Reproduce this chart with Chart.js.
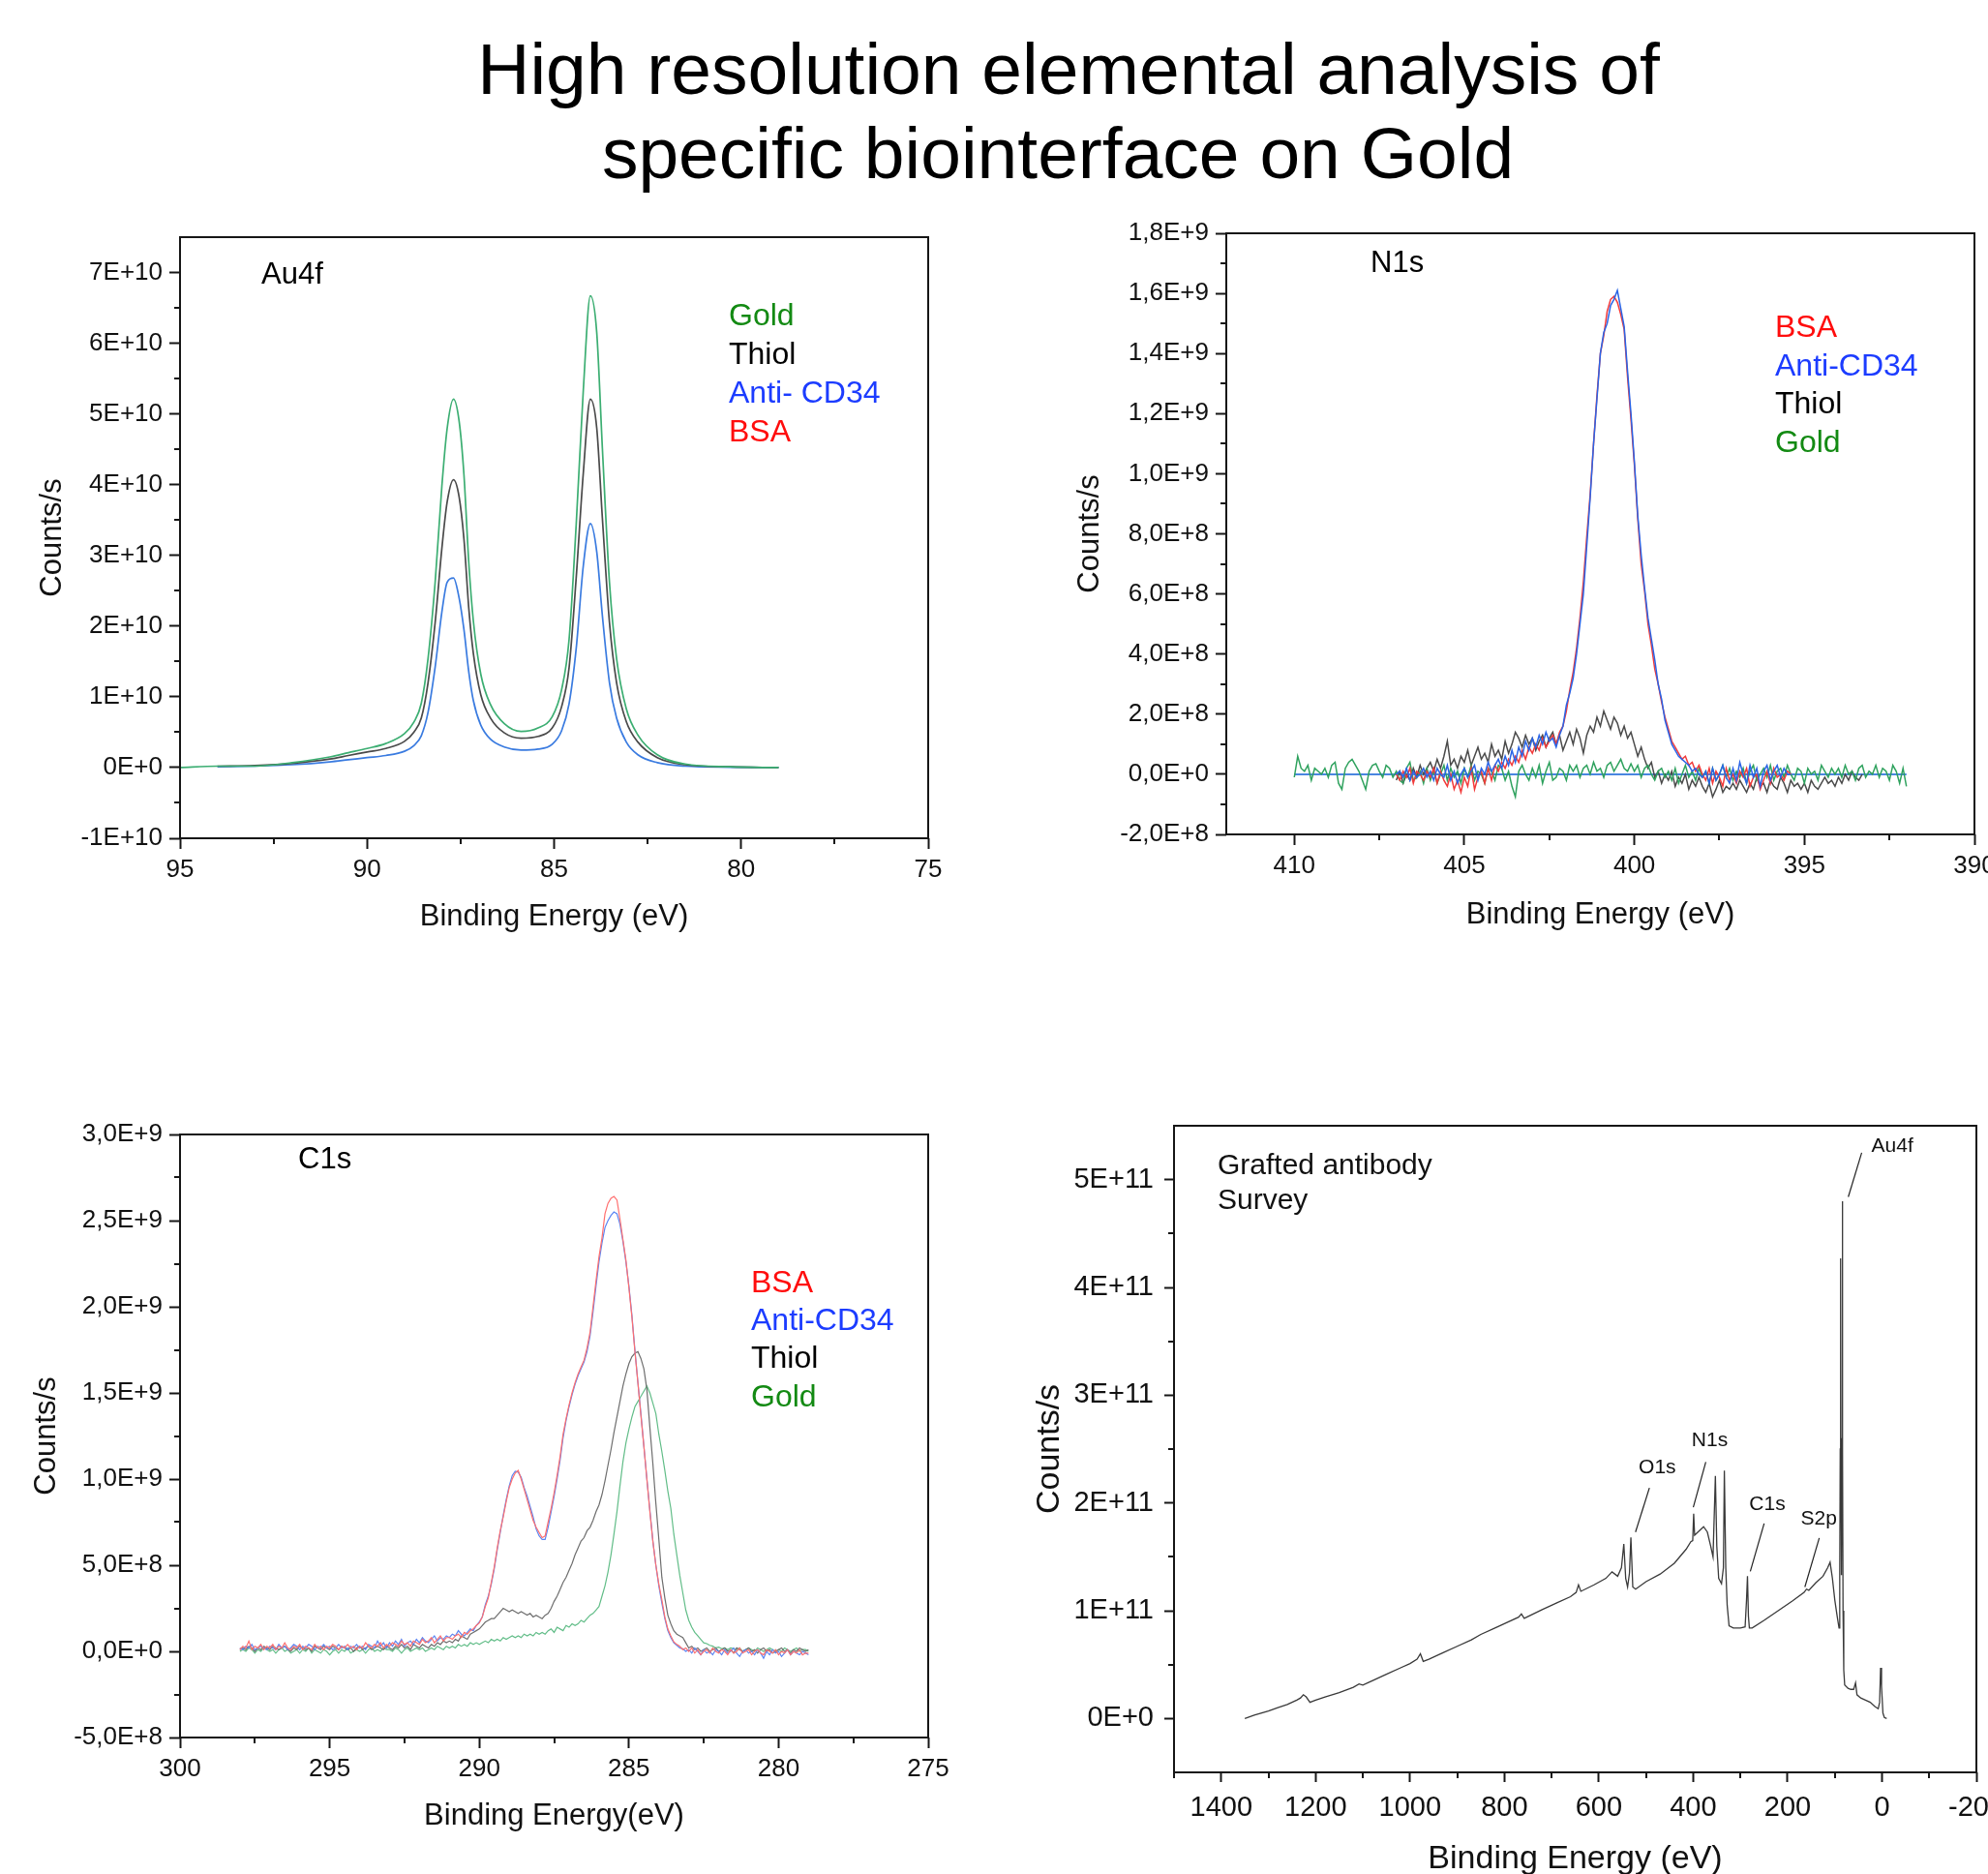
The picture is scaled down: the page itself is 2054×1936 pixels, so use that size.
<!DOCTYPE html>
<html><head><meta charset="utf-8">
<script src="https://cdn.jsdelivr.net/npm/chart.js@4/dist/chart.umd.min.js"></script>
<style>
html,body{margin:0;padding:0;background:#fff;width:2054px;height:1936px;overflow:hidden;position:relative;font-family:"Liberation Sans",Arial,sans-serif;}
.title{position:absolute;width:1600px;text-align:center;font-size:75px;line-height:75px;color:#000;white-space:nowrap;}
canvas{position:absolute;}
</style></head><body>
<div class="title" style="top:34px;left:304px">High resolution elemental analysis of</div>
<div class="title" style="top:121px;left:293px">specific biointerface on Gold</div>
<canvas id="cAu"></canvas>
<canvas id="cN"></canvas>
<canvas id="cC"></canvas>
<canvas id="cS"></canvas>
<script>
const FONT = '"Liberation Sans", Arial, sans-serif';
Chart.defaults.font.family = FONT;

// ================= Au4f (values in 1E+10 counts/s) =================
const au4fUnit = 1e10;
const au4fEnergy = [95.0, 94.0, 93.0, 92.0, 91.0, 90.5, 90.0, 89.5, 89.0, 88.75, 88.55, 88.37, 88.18, 88.0, 87.86, 87.69, 87.54, 87.41, 87.28, 87.16, 86.96, 86.7, 86.33, 85.88, 85.43, 85.05, 84.8, 84.6, 84.41, 84.22, 84.03, 83.86, 83.71, 83.52, 83.33, 83.07, 82.76, 82.24, 81.5, 80.3, 79.0];
const au4fGold  = [0, 0.02, 0.02, 0.07, 0.15, 0.21, 0.27, 0.34, 0.48, 0.64, 0.91, 1.54, 2.62, 3.98, 4.79, 5.21, 4.90, 4.14, 2.89, 2.08, 1.32, 0.89, 0.62, 0.51, 0.56, 0.72, 1.10, 1.81, 3.43, 5.33, 6.67, 6.15, 4.52, 2.62, 1.54, 0.83, 0.46, 0.18, 0.05, 0.01, 0];
const au4fThiol = [null, 0.02, 0.03, 0.06, 0.12, 0.17, 0.22, 0.27, 0.37, 0.50, 0.70, 1.20, 2.05, 3.10, 3.75, 4.07, 3.83, 3.23, 2.25, 1.62, 1.03, 0.70, 0.49, 0.415, 0.44, 0.56, 0.86, 1.41, 2.68, 4.16, 5.21, 4.80, 3.53, 2.05, 1.20, 0.65, 0.36, 0.14, 0.04, 0.01, 0];
const au4fAnti  = [null, 0.01, 0.02, 0.04, 0.08, 0.11, 0.14, 0.17, 0.23, 0.31, 0.45, 0.78, 1.42, 2.20, 2.62, 2.68, 2.40, 1.95, 1.35, 0.95, 0.60, 0.40, 0.29, 0.247, 0.26, 0.33, 0.52, 0.90, 1.68, 2.85, 3.45, 3.05, 2.15, 1.20, 0.70, 0.36, 0.18, 0.07, 0.02, 0.005, 0];
const au4fYTicks = [-1e10, 0, 1e10, 2e10, 3e10, 4e10, 5e10, 6e10, 7e10];
const au4fYLabels = ['-1E+10','0E+0','1E+10','2E+10','3E+10','4E+10','5E+10','6E+10','7E+10'];
const au4fYMinor = [-0.5e10, 0.5e10, 1.5e10, 2.5e10, 3.5e10, 4.5e10, 5.5e10, 6.5e10];
const au4fXTicks = [95, 90, 85, 80, 75];
const au4fXLabels = ['95','90','85','80','75'];
const au4fXMinor = [92.5, 87.5, 82.5, 77.5];

// ================= N1s (values in 1E+8 counts/s, scan step 0.1 eV) =================
const n1sUnit = 1e8;
const scanStepEV = 0.1;
const n1sGoldStart = 410.0;
const n1sGold = [
 -0.1, 0.6, 0.2, 0.1, 0.3, -0.2, 0.2, 0.1, 0.0, 0.2,
 -0.1, 0.3, 0.4, -0.3, -0.5, 0.2, 0.4, 0.5, 0.3, 0.1,
 -0.2, -0.5, 0.1, 0.3, 0.35, 0.1, -0.1, 0.3, 0.2, -0.1,
 0.1, -0.2, -0.3, 0.2, 0.4, -0.2, -0.1, 0.1, -0.3, 0.2,
 -0.2, 0.1, -0.3, 0.0, 0.3, -0.2, 0.2, -0.1, 0.1, -0.3,
 0.2, -0.1, 0.3, -0.2, 0.1, 0.0, -0.3, 0.2, 0.1, -0.2,
 0.3, 0.2, -0.2, 0.1, -0.4, -0.75, 0.1, 0.3, 0.0, -0.2,
 0.2, -0.1, 0.3, -0.3, 0.1, 0.4, -0.2, -0.1, 0.2, 0.1,
 -0.2, 0.3, 0.1, 0.3, -0.1, 0.2, 0.3, 0.0, 0.4, 0.1,
 0.2, -0.1, 0.3, 0.4, 0.1, 0.3, 0.5, 0.2, 0.1, 0.35,
 0.1, 0.3, -0.1, 0.2, 0.3, 0.0, -0.2, 0.1, 0.2, -0.1,
 0.1, -0.2, 0.2, -0.3, 0.0, 0.3, -0.1, 0.1, -0.2, 0.2,
 -0.1, 0.1, -0.3, 0.2, -0.2, 0.0, 0.3, -0.1, 0.2, -0.2,
 0.1, -0.1, 0.2, -0.3, 0.1, 0.3, -0.2, 0.0, 0.2, -0.1,
 0.3, -0.2, 0.1, 0.2, -0.1, 0.3, 0.0, -0.2, 0.2, 0.1,
 -0.3, 0.2, 0.0, 0.1, -0.2, 0.3, 0.1, -0.1, 0.2, 0.0,
 0.2, -0.1, 0.3, 0.0, 0.1, -0.2, 0.2, 0.3, -0.1, 0.1,
 0.0, 0.3, -0.1, 0.2, 0.1, -0.2, 0.3, 0.1, -0.3, 0.2,
 -0.4];
const n1sProteinStart = 407.0;
const n1sBSA = [
 0.0, -0.2, 0.1, -0.1, 0.2, -0.3, 0.1, 0.0, -0.2, 0.1,
 -0.1, 0.2, -0.3, 0.1, -0.2, -0.4, 0.0, -0.5, -0.2, -0.6,
 -0.1, -0.4, 0.2, -0.5, -0.1, 0.1, -0.3, 0.2, -0.2, 0.3,
 0.1, 0.4, 0.2, 0.5, 0.3, 0.6, 0.4, 0.8, 0.5, 0.9,
 0.7, 1.0, 0.8, 1.2, 0.9, 1.1, 1.3, 1.0, 1.4, 1.6,
 2.1, 2.8, 3.4, 4.2, 5.2, 6.4, 7.9, 9.3, 11.0, 12.6,
 14.0, 14.6, 15.4, 15.8, 15.9, 15.7, 15.3, 14.8, 13.2, 11.8,
 10.3, 8.5, 7.0, 6.1, 5.0, 4.3, 3.5, 3.0, 2.4, 1.9,
 1.5, 1.1, 0.9, 0.7, 0.5, 0.6, 0.3, 0.4, 0.1, 0.3,
 0.0, -0.2, 0.2, -0.3, 0.1, -0.1, -0.4, 0.2, -0.2, 0.0,
 -0.3, 0.1, -0.1, 0.2, -0.4, -0.1, 0.0, -0.5, -0.2, 0.1,
 -0.3, 0.2, -0.1, 0.0, -0.2, 0.1, 0.0];
const n1sAnti = [
 0.0, 0.1, -0.1, 0.2, -0.2, 0.1, -0.1, 0.0, 0.2, -0.1,
 0.1, -0.2, 0.2, 0.0, -0.1, 0.3, -0.2, 0.1, -0.3, 0.0,
 0.2, -0.1, 0.1, 0.3, -0.2, 0.2, 0.0, 0.4, 0.1, 0.3,
 0.5, 0.2, 0.6, 0.3, 0.8, 0.4, 0.9, 0.6, 1.1, 0.8,
 1.2, 0.9, 1.3, 1.0, 1.4, 1.1, 1.2, 0.9, 1.3, 1.6,
 2.3, 2.7, 3.2, 4.0, 5.0, 6.0, 7.6, 9.2, 11.0, 12.5,
 14.0, 14.7, 15.0, 15.6, 15.8, 16.1, 15.5, 14.9, 13.4, 12.0,
 10.4, 8.6, 7.3, 6.2, 5.2, 4.5, 3.8, 3.0, 2.5, 1.8,
 1.4, 1.0, 0.8, 0.6, 0.5, 0.4, 0.3, 0.1, 0.2, 0.0,
 -0.1, 0.1, -0.3, 0.2, -0.2, 0.0, 0.3, -0.1, -0.3, 0.2,
 -0.2, 0.4, 0.0, -0.3, 0.3, -0.1, 0.2, -0.4, 0.1, 0.3,
 -0.2, 0.1, 0.3, -0.1, 0.2, 0.0, 0.0];
const n1sThiol = [
 -0.2, 0.1, -0.3, 0.0, -0.2, 0.2, -0.1, 0.3, 0.0, 0.2,
 0.4, 0.1, 0.5, 0.2, 0.6, 1.1, 0.3, 0.5, 0.2, 0.6,
 0.4, 0.8, 0.3, 0.6, 0.9, 0.5, 0.7, 0.4, 1.0, 0.6,
 0.8, 0.5, 1.1, 0.7, 1.0, 1.4, 1.2, 0.9, 1.3, 1.0,
 1.2, 0.8, 1.1, 1.3, 0.9, 1.2, 1.4, 1.0, 1.3, 0.8,
 1.1, 1.4, 1.0, 1.5, 1.2, 0.7, 1.3, 1.6, 1.4, 1.9,
 1.6, 2.1, 1.8, 1.5, 1.9, 1.7, 1.3, 1.6, 1.2, 1.4,
 1.0, 0.6, 0.9, 0.5, 0.2, 0.4, -0.1, 0.1, -0.3, 0.0,
 -0.2, 0.1, -0.4, -0.1, -0.3, 0.0, -0.5, -0.2, -0.4, -0.1,
 -0.4, -0.6, -0.3, -0.75, -0.5, -0.2, -0.6, -0.4, -0.5, -0.3,
 -0.5, -0.2, -0.4, -0.6, -0.3, -0.5, -0.1, -0.4, -0.3, -0.6,
 -0.2, -0.4, -0.5, -0.1, -0.3, -0.6, -0.2, -0.4, -0.3, -0.5,
 -0.3, -0.6, -0.2, -0.4, -0.5, -0.3, -0.1, -0.3, -0.2, -0.4,
 -0.1, -0.3, 0.0, -0.2, 0.1, -0.1, -0.2, 0.0];
const n1sBaselineEnergy = [410.0, 392.0];
const n1sBaseline = [0, 0];
const n1sYTicks = [-2e8, 0, 2e8, 4e8, 6e8, 8e8, 1e9, 1.2e9, 1.4e9, 1.6e9, 1.8e9];
const n1sYLabels = ['-2,0E+8','0,0E+0','2,0E+8','4,0E+8','6,0E+8','8,0E+8','1,0E+9','1,2E+9','1,4E+9','1,6E+9','1,8E+9'];
const n1sYMinor = [-1e8, 1e8, 3e8, 5e8, 7e8, 9e8, 1.1e9, 1.3e9, 1.5e9, 1.7e9];
const n1sXTicks = [410, 405, 400, 395, 390];
const n1sXLabels = ['410','405','400','395','390'];
const n1sXMinor = [407.5, 402.5, 397.5, 392.5];

// ================= C1s (values in 1E+8 counts/s, scan step 0.1 eV) =================
const c1sUnit = 1e8;
const c1sStart = 298.0;
const c1sBSA = [
 0.1, 0.3, 0.2, 0.6, 0.1, 0.3, 0.2, 0.4, 0.1, 0.3,
 0.2, 0.4, 0.1, 0.3, 0.2, 0.5, 0.2, 0.1, 0.3, 0.2,
 0.4, 0.1, 0.3, 0.2, 0.1, 0.4, 0.2, 0.3, 0.1, 0.3,
 0.2, 0.4, 0.3, 0.1, 0.3, 0.2, 0.4, 0.2, 0.3, 0.1,
 0.3, 0.2, 0.5, 0.3, 0.2, 0.4, 0.3, 0.5, 0.2, 0.4,
 0.3, 0.5, 0.4, 0.3, 0.6, 0.4, 0.5, 0.3, 0.6, 0.5,
 0.4, 0.7, 0.5, 0.6, 0.8, 0.5, 0.7, 0.9, 0.6, 0.8,
 0.8, 0.7, 0.9, 1.0, 0.8, 1.1, 1.0, 1.2, 1.3, 1.5,
 1.65, 2.0, 2.6, 3.1, 4.0, 4.9, 6.0, 7.0, 7.8, 8.7,
 9.5, 10.0, 10.35, 10.5, 10.0, 9.4, 8.8, 8.2, 7.6, 7.2,
 6.9, 6.6, 6.7, 7.5, 8.3, 9.2, 10.2, 11.3, 12.6, 13.5,
 14.3, 15.0, 15.6, 16.1, 16.5, 16.9, 17.6, 18.5, 20.0, 21.5,
 22.9, 24.0, 25.4, 26.0, 26.3, 26.4, 26.2, 25.1, 23.9, 22.7,
 21.1, 19.4, 17.4, 15.6, 13.7, 11.9, 10.0, 8.1, 6.4, 5.0,
 3.9, 3.0, 2.0, 1.3, 0.9, 0.55, 0.4, 0.3, 0.1, 0.2,
 0.0, 0.2, -0.1, 0.1, -0.2, 0.0, 0.1, -0.1, 0.2, 0.0,
 -0.1, 0.1, 0.0, -0.2, 0.1, -0.1, 0.0, 0.2, -0.1, 0.0,
 0.1, -0.2, 0.0, 0.1, -0.1, -0.2, 0.1, 0.0, -0.1, 0.1,
 -0.2, 0.0, -0.1, 0.1, -0.2, 0.0, -0.1, 0.1, -0.2, -0.1,
 -0.1];
const c1sAnti = [
 0.2, 0.1, 0.3, 0.2, 0.4, 0.1, 0.2, 0.3, 0.2, 0.1,
 0.3, 0.2, 0.1, 0.4, 0.2, 0.3, 0.1, 0.2, 0.4, 0.3,
 0.1, 0.3, 0.2, 0.4, 0.3, 0.1, 0.3, 0.2, 0.4, 0.2,
 0.3, 0.1, 0.2, 0.4, 0.2, 0.3, 0.1, 0.3, 0.2, 0.4,
 0.2, 0.3, 0.1, 0.4, 0.3, 0.2, 0.6, 0.3, 0.5, 0.2,
 0.5, 0.3, 0.6, 0.4, 0.7, 0.3, 0.5, 0.6, 0.4, 0.7,
 0.5, 0.8, 0.6, 0.5, 0.7, 0.9, 0.6, 0.8, 0.7, 0.9,
 0.8, 1.0, 0.9, 1.2, 1.0, 0.9, 1.1, 1.3, 1.2, 1.5,
 1.7, 2.0, 2.7, 3.2, 3.9, 4.8, 5.9, 6.9, 7.9, 8.8,
 9.6, 10.2, 10.45, 10.4, 10.1, 9.5, 9.0, 8.4, 7.8, 7.1,
 6.7, 6.5, 6.5, 7.2, 8.1, 9.0, 10.0, 11.1, 12.4, 13.4,
 14.2, 14.9, 15.5, 16.0, 16.4, 16.8, 17.4, 18.3, 19.7, 21.2,
 22.6, 23.7, 24.6, 25.0, 25.3, 25.5, 25.4, 24.8, 23.8, 22.6,
 21.2, 19.5, 17.5, 15.6, 13.8, 11.9, 10.0, 8.2, 6.4, 5.0,
 3.8, 2.8, 1.9, 1.2, 0.8, 0.5, 0.35, 0.2, 0.15, 0.0,
 0.1, -0.1, 0.2, 0.0, -0.2, 0.1, -0.1, 0.0, -0.2, 0.1,
 0.0, -0.2, 0.1, -0.1, 0.0, 0.2, -0.1, -0.3, 0.0, 0.1,
 -0.1, 0.0, -0.2, 0.1, -0.1, -0.4, 0.0, -0.2, 0.1, -0.1,
 0.0, -0.3, -0.1, 0.1, -0.2, 0.0, -0.1, -0.2, 0.0, -0.1,
 -0.2];
const c1sThiol = [
 0.1, 0.2, 0.1, 0.3, 0.2, 0.0, 0.2, 0.1, 0.3, 0.2,
 0.1, 0.3, 0.2, 0.1, 0.2, 0.3, 0.1, 0.0, 0.2, 0.1,
 0.3, 0.2, 0.1, 0.2, 0.0, 0.3, 0.2, 0.1, 0.3, 0.2,
 0.1, 0.3, 0.2, 0.1, 0.3, 0.2, 0.1, 0.2, 0.0, 0.2,
 0.3, 0.1, 0.2, 0.3, 0.1, 0.2, 0.3, 0.2, 0.1, 0.3,
 0.2, 0.1, 0.3, 0.2, 0.4, 0.2, 0.3, 0.1, 0.4, 0.3,
 0.2, 0.4, 0.3, 0.2, 0.4, 0.3, 0.5, 0.4, 0.6, 0.5,
 0.6, 0.5, 0.7, 0.6, 0.9, 0.8, 0.7, 1.0, 1.1, 1.2,
 1.3, 1.5, 1.7, 1.8, 1.9, 1.9, 2.1, 2.3, 2.5, 2.4,
 2.3, 2.4, 2.3, 2.2, 2.3, 2.2, 2.1, 2.2, 2.0, 2.1,
 2.0, 1.9, 2.1, 2.2, 2.5, 2.9, 3.2, 3.6, 4.0, 4.3,
 4.7, 5.1, 5.6, 6.0, 6.4, 6.6, 7.0, 7.2, 7.6, 8.1,
 8.5, 9.1, 9.9, 10.8, 11.7, 12.7, 13.6, 14.5, 15.4, 16.1,
 16.7, 17.1, 17.3, 17.4, 17.0, 16.4, 15.2, 13.0, 10.9, 8.6,
 6.5, 4.3, 3.1, 2.1, 1.6, 1.2, 1.0, 0.9, 0.8, 0.5,
 0.2, 0.3, 0.1, 0.2, 0.0, 0.1, 0.2, 0.0, 0.1, 0.2,
 0.0, 0.1, 0.2, 0.0, 0.1, -0.1, 0.2, 0.1, 0.0, 0.1,
 0.2, 0.0, 0.1, -0.1, 0.1, 0.2, 0.0, 0.1, -0.1, 0.0,
 0.1, 0.2, 0.0, 0.1, -0.1, 0.1, 0.0, 0.2, 0.1, 0.0,
 0.1];
const c1sGold = [
 0.0, 0.1, 0.0, 0.2, 0.1, -0.1, 0.1, 0.0, 0.2, 0.1,
 0.0, 0.1, -0.1, 0.1, 0.2, 0.0, 0.1, -0.1, 0.0, 0.1,
 -0.1, 0.1, 0.0, 0.2, -0.1, 0.1, 0.0, -0.1, 0.1, 0.0,
 -0.2, 0.0, 0.1, -0.1, 0.1, 0.0, 0.2, -0.1, 0.0, 0.1,
 0.0, 0.1, -0.1, 0.1, 0.2, 0.0, 0.1, 0.0, 0.2, 0.1,
 0.1, 0.0, 0.2, 0.1, -0.1, 0.1, 0.2, 0.0, 0.1, 0.2,
 0.1, 0.2, 0.0, 0.1, 0.2, 0.1, 0.3, 0.2, 0.1, 0.3,
 0.2, 0.3, 0.2, 0.4, 0.3, 0.4, 0.3, 0.5, 0.4, 0.5,
 0.4, 0.5, 0.6, 0.5, 0.7, 0.6, 0.7, 0.6, 0.8, 0.7,
 0.8, 0.9, 0.8, 0.9, 0.8, 1.0, 0.9, 1.0, 0.9, 1.1,
 1.0, 1.1, 1.0, 1.2, 1.3, 1.1, 1.4, 1.3, 1.2, 1.5,
 1.4, 1.6, 1.5, 1.6, 1.8, 1.7, 1.9, 2.1, 2.2, 2.4,
 2.6, 3.2, 3.8, 4.6, 5.6, 6.8, 8.1, 9.6, 11.0, 12.1,
 12.9, 13.6, 14.2, 14.5, 14.8, 15.1, 15.4, 15.0, 14.4, 13.8,
 12.6, 11.6, 10.5, 9.3, 8.3, 6.8, 5.6, 4.4, 3.4, 2.4,
 1.8, 1.4, 1.1, 0.9, 0.7, 0.5, 0.45, 0.35, 0.3, 0.2,
 0.25, 0.15, 0.2, 0.1, 0.2, 0.15, 0.1, 0.2, 0.0, 0.1,
 0.2, 0.1, 0.0, 0.2, 0.1, 0.0, 0.1, 0.2, 0.1, 0.0,
 0.1, 0.0, 0.2, 0.1, 0.0, 0.1, 0.2, 0.0, 0.1, 0.1,
 0.0];
const c1sYTicks = [-5e8, 0, 5e8, 1e9, 1.5e9, 2e9, 2.5e9, 3e9];
const c1sYLabels = ['-5,0E+8','0,0E+0','5,0E+8','1,0E+9','1,5E+9','2,0E+9','2,5E+9','3,0E+9'];
const c1sYMinor = [-2.5e8, 2.5e8, 7.5e8, 1.25e9, 1.75e9, 2.25e9, 2.75e9];
const c1sXTicks = [300, 295, 290, 285, 280, 275];
const c1sXLabels = ['300','295','290','285','280','275'];
const c1sXMinor = [297.5, 292.5, 287.5, 282.5, 277.5];

// ================= Survey (values in 1E+11 counts/s) =================
const surveyUnit = 1e11;
const surveyEnergy = [1350,1330,1300,1280,1260,1240,1232,1226,1220,1212,1200,1180,1150,1120,1108,1100,1080,1050,1020,1000,985,978,972,960,930,900,870,850,820,800,770,764,758,720,690,660,648,643,638,610,585,572,560,552,547,543,539,535,532,528,522,500,470,440,415,405,401,399,397,390,378,370,363,358,353,350,346,340,336,334,331,328,324,315,300,290,287,285,283,281,275,250,220,190,165,160,155,140,125,115,110,105,100,95,91,89.5,88.5,87.7,87.0,86.3,85.6,84.8,84.0,83.3,82.5,81,79,72,66,60,56,53,45,35,25,15,8,5,3,1,-2,-5,-10];
const surveyCounts = [0.00,0.03,0.07,0.10,0.13,0.17,0.19,0.22,0.20,0.15,0.17,0.20,0.24,0.29,0.32,0.31,0.35,0.41,0.47,0.51,0.55,0.60,0.53,0.55,0.61,0.67,0.73,0.78,0.84,0.88,0.94,0.97,0.93,1.01,1.07,1.13,1.17,1.24,1.18,1.24,1.30,1.36,1.32,1.40,1.62,1.30,1.22,1.35,1.68,1.22,1.20,1.27,1.34,1.44,1.57,1.64,1.65,1.90,1.70,1.73,1.78,1.73,1.60,1.50,2.25,1.60,1.30,1.25,1.40,2.30,1.40,1.05,0.86,0.84,0.84,0.85,1.10,1.32,0.95,0.84,0.84,0.91,1.00,1.09,1.17,1.20,1.19,1.26,1.32,1.40,1.45,1.30,1.10,0.95,0.84,1.30,2.50,4.27,2.60,1.50,1.33,2.60,4.80,2.50,1.00,0.45,0.31,0.28,0.27,0.27,0.33,0.22,0.19,0.17,0.15,0.11,0.09,0.15,0.47,0.30,0.05,0.01,0.00];
const surveyYTicks = [0, 1e11, 2e11, 3e11, 4e11, 5e11];
const surveyYLabels = ['0E+0','1E+11','2E+11','3E+11','4E+11','5E+11'];
const surveyYMinor = [0.5e11, 1.5e11, 2.5e11, 3.5e11, 4.5e11];
const surveyXTicks = [1400, 1200, 1000, 800, 600, 400, 200, 0, -200];
const surveyXLabels = ['1400','1200','1000','800','600','400','200','0','-200'];
const surveyXMinor = [1500, 1300, 1100, 900, 700, 500, 300, 100, -100];
// peak labels (eV, 1E+11) and their leader lines
const peakNames = ['Au4f', 'O1s', 'N1s', 'C1s', 'S2p'];
const peakLabelEV = [-22, 476, 365, 243, 134];
const peakLabelY = [5.31, 2.33, 2.58, 1.985, 1.85];
const leaderFromEV = [43, 492.8, 373.3, 249.7, 132.9];
const leaderFromY = [5.25, 2.14, 2.38, 1.81, 1.675];
const leaderToEV = [71.4, 522.2, 399.8, 279, 163.4];
const leaderToY = [4.84, 1.73, 1.96, 1.365, 1.22];

// ================= helpers =================
const pts = (xs, ys, unit) => xs.map((x, i) => ({x: x, y: ys[i] == null ? null : ys[i] * unit}));
const scanEnergies = (start, n) => Array.from({length: n}, (_, i) => +(start - i * scanStepEV).toFixed(2));

const decor = {
  id: 'decor',
  afterDraw(chart, args, o) {
    const ctx = chart.ctx, a = chart.chartArea, xs = chart.scales.x, ys = chart.scales.y;
    ctx.save();
    ctx.strokeStyle = '#161616';
    ctx.lineWidth = 2;
    ctx.strokeRect(a.left, a.top, a.right - a.left, a.bottom - a.top);
    ctx.beginPath();
    (o.xMinor || []).forEach(v => { const p = Math.round(xs.getPixelForValue(v)); ctx.moveTo(p, a.bottom); ctx.lineTo(p, a.bottom + o.minorLen); });
    (o.yMinor || []).forEach(v => { const p = Math.round(ys.getPixelForValue(v)); ctx.moveTo(a.left, p); ctx.lineTo(a.left - o.minorLen, p); });
    ctx.stroke();
    ctx.textBaseline = 'middle';
    (o.texts || []).forEach(t => {
      ctx.font = t.size + 'px ' + FONT;
      ctx.fillStyle = t.color;
      ctx.textAlign = 'left';
      ctx.fillText(t.text, a.left + t.dx, a.top + t.dy);
    });
    if (o.notes) {
      const n = o.notes;
      ctx.lineWidth = 1.2;
      ctx.strokeStyle = '#222';
      ctx.fillStyle = '#111';
      ctx.font = n.size + 'px ' + FONT;
      ctx.textAlign = 'center';
      n.text.forEach((t, i) => {
        ctx.fillText(t, xs.getPixelForValue(n.tx[i]), ys.getPixelForValue(n.ty[i] * n.unit));
        ctx.beginPath();
        ctx.moveTo(xs.getPixelForValue(n.x1[i]), ys.getPixelForValue(n.y1[i] * n.unit));
        ctx.lineTo(xs.getPixelForValue(n.x2[i]), ys.getPixelForValue(n.y2[i] * n.unit));
        ctx.stroke();
      });
    }
    ctx.restore();
  }
};

function build(id, g, c) {
  const cv = document.getElementById(id);
  cv.width = g.w; cv.height = g.h;
  cv.style.left = g.left + 'px'; cv.style.top = g.top + 'px';
  cv.style.width = g.w + 'px'; cv.style.height = g.h + 'px';
  const padTop = g.cTop - g.top;
  const padRight = g.left + g.w - g.cRight;
  const yW = g.cLeft - g.left;
  const padBottom = g.top + g.h - g.cBottom - g.xH;
  return new Chart(cv, {
    type: 'line',
    data: {datasets: c.datasets},
    options: {
      responsive: false, animation: false, devicePixelRatio: 1,
      layout: {padding: {left: 0, top: padTop, right: padRight, bottom: padBottom}},
      plugins: {legend: {display: false}, tooltip: {enabled: false}, decor: c.decor},
      elements: {point: {radius: 0}, line: {tension: 0}},
      scales: {
        x: {
          type: 'linear', reverse: true, min: c.xMin, max: c.xMax,
          afterBuildTicks: s => { s.ticks = c.xTicks.map(v => ({value: v})); },
          afterFit: s => { s.height = g.xH; },
          ticks: {autoSkip: false, maxRotation: 0, padding: c.xPad, color: '#111',
                  font: {family: FONT, size: c.xTickSize}, callback: (v, i) => c.xLabels[i]},
          grid: {drawOnChartArea: false, drawTicks: true, tickLength: c.tl, tickWidth: 2, tickColor: '#161616'},
          border: {display: false},
          title: {display: true, text: c.xTitle, color: '#111', font: {family: FONT, size: c.titleSize}, padding: {top: 0, bottom: 0}}
        },
        y: {
          type: 'linear', min: c.yMin, max: c.yMax,
          afterBuildTicks: s => { s.ticks = c.yTicks.map(v => ({value: v})); },
          afterFit: s => { s.width = yW; },
          ticks: {autoSkip: false, padding: c.yPad, color: '#111',
                  font: {family: FONT, size: c.yTickSize}, callback: (v, i) => c.yLabels[i]},
          grid: {drawOnChartArea: false, drawTicks: true, tickLength: c.tl, tickWidth: 2, tickColor: '#161616'},
          border: {display: false},
          title: {display: true, text: 'Counts/s', color: '#111', font: {family: FONT, size: c.titleSize}, padding: {top: c.yTitlePad, bottom: 0}}
        }
      }
    },
    plugins: [decor]
  });
}

// ---------- Au4f panel ----------
build('cAu', {left: 0, top: 200, w: 1010, h: 790, cLeft: 186, cTop: 245, cRight: 959, cBottom: 866, xH: 100}, {
  datasets: [
    {data: pts(au4fEnergy, au4fGold, au4fUnit), borderColor: '#3cae72', borderWidth: 1.7, cubicInterpolationMode: 'monotone'},
    {data: pts(au4fEnergy, au4fThiol, au4fUnit), borderColor: '#4a4a4a', borderWidth: 1.7, cubicInterpolationMode: 'monotone'},
    {data: pts(au4fEnergy, au4fAnti, au4fUnit), borderColor: '#3a7be0', borderWidth: 1.7, cubicInterpolationMode: 'monotone'}
  ],
  xMin: 75, xMax: 95, xTicks: au4fXTicks, xLabels: au4fXLabels,
  yMin: -1e10, yMax: 7.5e10, yTicks: au4fYTicks, yLabels: au4fYLabels,
  xTitle: 'Binding Energy (eV)', titleSize: 31, xTickSize: 26, yTickSize: 26, tl: 11, xPad: 6, yPad: 7, yTitlePad: 36,
  decor: {minorLen: 6, xMinor: au4fXMinor, yMinor: au4fYMinor, texts: [
    {text: 'Au4f', color: '#000', size: 31, dx: 84, dy: 39},
    {text: 'Gold', color: '#138a13', size: 32, dx: 567, dy: 82},
    {text: 'Thiol', color: '#000', size: 32, dx: 567, dy: 122},
    {text: 'Anti- CD34', color: '#1c3cff', size: 32, dx: 567, dy: 162},
    {text: 'BSA', color: '#ff0d0d', size: 32, dx: 567, dy: 202}
  ]}
});

// ---------- N1s panel ----------
build('cN', {left: 1060, top: 190, w: 1040, h: 790, cLeft: 1267, cTop: 241, cRight: 2040, cBottom: 862, xH: 102}, {
  datasets: [
    {data: pts(scanEnergies(n1sProteinStart, n1sAnti.length), n1sAnti, n1sUnit), borderColor: '#2a64e6', borderWidth: 1.5},
    {data: pts(scanEnergies(n1sProteinStart, n1sBSA.length), n1sBSA, n1sUnit), borderColor: '#f23a3a', borderWidth: 1.5},
    {data: pts(scanEnergies(n1sGoldStart, n1sGold.length), n1sGold, n1sUnit), borderColor: '#2fa25e', borderWidth: 1.5},
    {data: pts(scanEnergies(n1sProteinStart, n1sThiol.length), n1sThiol, n1sUnit), borderColor: '#4a4a4a', borderWidth: 1.5},
    {data: pts(n1sBaselineEnergy, n1sBaseline, n1sUnit), borderColor: '#4a86e0', borderWidth: 2}
  ],
  xMin: 390, xMax: 412, xTicks: n1sXTicks, xLabels: n1sXLabels,
  yMin: -2e8, yMax: 1.8e9, yTicks: n1sYTicks, yLabels: n1sYLabels,
  xTitle: 'Binding Energy (eV)', titleSize: 31, xTickSize: 26, yTickSize: 26, tl: 11, xPad: 6, yPad: 7, yTitlePad: 48,
  decor: {minorLen: 6, xMinor: n1sXMinor, yMinor: n1sYMinor, texts: [
    {text: 'N1s', color: '#000', size: 31, dx: 149, dy: 31},
    {text: 'BSA', color: '#ff0d0d', size: 32, dx: 567, dy: 98},
    {text: 'Anti-CD34', color: '#1c3cff', size: 32, dx: 567, dy: 138},
    {text: 'Thiol', color: '#000', size: 32, dx: 567, dy: 177},
    {text: 'Gold', color: '#138a13', size: 32, dx: 567, dy: 217}
  ]}
});

// ---------- C1s panel ----------
build('cC', {left: 0, top: 1130, w: 1010, h: 790, cLeft: 186, cTop: 1172, cRight: 959, cBottom: 1795, xH: 100}, {
  datasets: [
    {data: pts(scanEnergies(c1sStart, c1sBSA.length), c1sBSA, c1sUnit), borderColor: '#ff6f6f', borderWidth: 1.2},
    {data: pts(scanEnergies(c1sStart, c1sAnti.length), c1sAnti, c1sUnit), borderColor: '#5b85f2', borderWidth: 1.2},
    {data: pts(scanEnergies(c1sStart, c1sThiol.length), c1sThiol, c1sUnit), borderColor: '#6e6e6e', borderWidth: 1.2},
    {data: pts(scanEnergies(c1sStart, c1sGold.length), c1sGold, c1sUnit), borderColor: '#62bd88', borderWidth: 1.2}
  ],
  xMin: 275, xMax: 300, xTicks: c1sXTicks, xLabels: c1sXLabels,
  yMin: -5e8, yMax: 3e9, yTicks: c1sYTicks, yLabels: c1sYLabels,
  xTitle: 'Binding Energy(eV)', titleSize: 31, xTickSize: 26, yTickSize: 26, tl: 11, xPad: 6, yPad: 7, yTitlePad: 30,
  decor: {minorLen: 6, xMinor: c1sXMinor, yMinor: c1sYMinor, texts: [
    {text: 'C1s', color: '#000', size: 31, dx: 122, dy: 26},
    {text: 'BSA', color: '#ff0d0d', size: 32, dx: 590, dy: 154},
    {text: 'Anti-CD34', color: '#1c3cff', size: 32, dx: 590, dy: 193},
    {text: 'Thiol', color: '#000', size: 32, dx: 590, dy: 232},
    {text: 'Gold', color: '#138a13', size: 32, dx: 590, dy: 272}
  ]}
});

// ---------- Survey panel ----------
build('cS', {left: 1010, top: 1110, w: 1100, h: 836, cLeft: 1213, cTop: 1163, cRight: 2042, cBottom: 1831, xH: 110}, {
  datasets: [
    {data: pts(surveyEnergy, surveyCounts, surveyUnit), borderColor: '#3a3a3a', borderWidth: 1.3}
  ],
  xMin: -200, xMax: 1500, xTicks: surveyXTicks, xLabels: surveyXLabels,
  yMin: -0.5e11, yMax: 5.5e11, yTicks: surveyYTicks, yLabels: surveyYLabels,
  xTitle: 'Binding Energy (eV)', titleSize: 34, xTickSize: 29, yTickSize: 29, tl: 10, xPad: 10, yPad: 11, yTitlePad: 54,
  decor: {minorLen: 6, xMinor: surveyXMinor, yMinor: surveyYMinor, texts: [
    {text: 'Grafted antibody', color: '#111', size: 30, dx: 45, dy: 42},
    {text: 'Survey', color: '#111', size: 30, dx: 45, dy: 78}
  ], notes: {size: 21, unit: surveyUnit, text: peakNames, tx: peakLabelEV, ty: peakLabelY,
             x1: leaderFromEV, y1: leaderFromY, x2: leaderToEV, y2: leaderToY}}
});
</script>
</body></html>
